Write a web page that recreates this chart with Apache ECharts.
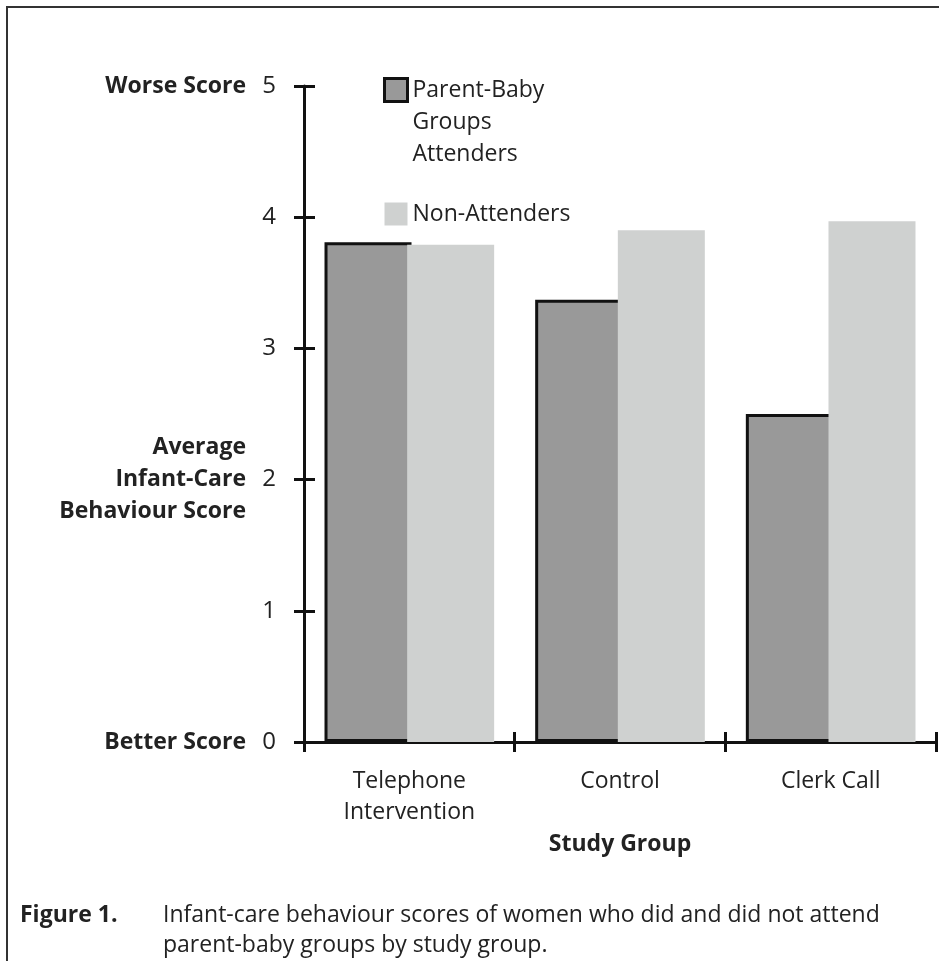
<!DOCTYPE html>
<html>
<head>
<meta charset="utf-8">
<script src="https://cdn.jsdelivr.net/npm/echarts@6/dist/echarts.min.js"></script>
<style>
html,body{margin:0;padding:0;background:#fff;}
#chart{position:absolute;left:0;top:0;width:939px;height:961px;}
#frame{position:absolute;left:6px;top:6px;width:940px;height:960px;border-left:2px solid #333;border-top:2px solid #333;pointer-events:none;}
</style>
</head>
<body>
<div id="chart"></div>
<div id="frame"></div>
<script>
const categories = ['Telephone\nIntervention', 'Control', 'Clerk Call'];
const attenders = [3.81, 3.37, 2.50];
const nonAttenders = [3.79, 3.90, 3.97];
const seriesNames = ['Parent-Baby\nGroups\nAttenders', 'Non-Attenders'];
const yTickValues = [0, 1, 2, 3, 4, 5];
const yDescriptors = ['Better Score', '', 'Average\nInfant-Care\nBehaviour Score', '', '', 'Worse Score'];
const captionLabel = 'Figure 1.';
const captionText = 'Infant-care behaviour scores of women who did and did not attend\nparent-baby groups by study group.';

const FONT = 'Open Sans';
const INK = '#111';

const chart = echarts.init(document.getElementById('chart'), null, {renderer: 'canvas'});

const baseY = {
  type: 'value', min: yTickValues[0], max: yTickValues[yTickValues.length - 1], interval: 1,
  position: 'left', offset: 0, splitLine: {show: false}
};
const baseX = {
  type: 'category', data: categories, position: 'bottom', offset: 0, boundaryGap: true,
  splitLine: {show: false}
};

chart.setOption({
  animation: false,
  backgroundColor: '#fff',
  textStyle: {fontFamily: FONT},
  title: [
    {text: captionLabel, left: 15, top: 895, textStyle: {fontFamily: FONT, fontSize: 23, fontWeight: 'bold', color: '#222', lineHeight: 30}},
    {text: captionText, left: 158, top: 895, textStyle: {fontFamily: FONT, fontSize: 23, fontWeight: 'normal', color: '#222', lineHeight: 30}}
  ],
  legend: {
    orient: 'vertical', left: 383, top: 10, padding: 0, itemWidth: 23, itemHeight: 23, itemGap: 28,
    selectedMode: false, icon: 'rect',
    textStyle: {fontFamily: FONT, fontSize: 23, color: '#222', lineHeight: 32},
    formatter: function (name) { return name === seriesNames[0] ? '\n\n' + name : name; },
    data: [
      {name: seriesNames[0], itemStyle: {borderColor: INK, borderWidth: 3}},
      {name: seriesNames[1]}
    ]
  },
  grid: {left: 304, right: 3, top: 86, bottom: 219, containLabel: false},
  xAxis: [
    Object.assign({}, baseX, {
      axisLine: {show: true, lineStyle: {color: INK, width: 3}},
      axisTick: {show: true, inside: false, length: 10, lineStyle: {color: INK, width: 3}},
      axisLabel: {show: true, margin: 24, fontFamily: FONT, fontSize: 23, lineHeight: 31, color: '#222'},
      name: 'Study Group', nameLocation: 'middle', nameGap: 87,
      nameTextStyle: {fontFamily: FONT, fontSize: 23, fontWeight: 'bold', color: '#222'}
    }),
    Object.assign({}, baseX, {
      axisLine: {show: false},
      axisTick: {show: true, inside: true, length: 10, lineStyle: {color: INK, width: 3}},
      axisLabel: {show: false}
    })
  ],
  yAxis: [
    Object.assign({}, baseY, {
      axisLine: {show: true, lineStyle: {color: INK, width: 3}},
      axisTick: {show: true, inside: false, length: 10, lineStyle: {color: INK, width: 3}},
      axisLabel: {show: true, margin: 28, fontFamily: FONT, fontSize: 24, color: '#222'}
    }),
    Object.assign({}, baseY, {
      axisLine: {show: false},
      axisTick: {show: true, inside: true, length: 11, lineStyle: {color: INK, width: 3}},
      axisLabel: {show: false}
    }),
    Object.assign({}, baseY, {
      axisLine: {show: false},
      axisTick: {show: false},
      axisLabel: {
        show: true, margin: 58, fontFamily: FONT, fontSize: 23, fontWeight: 'bold', color: '#222', lineHeight: 32,
        formatter: function (v) { return yDescriptors[Math.round(v)] || ''; }
      }
    })
  ],
  series: [
    {
      name: seriesNames[0], type: 'bar', data: attenders, xAxisIndex: 0, yAxisIndex: 0,
      barWidth: 87, barGap: '-5%',
      itemStyle: {color: '#999999', borderColor: INK, borderWidth: 3}
    },
    {
      name: seriesNames[1], type: 'bar', data: nonAttenders, xAxisIndex: 0, yAxisIndex: 0,
      barWidth: 87,
      itemStyle: {color: '#cfd1d0', borderWidth: 0}
    }
  ]
});
</script>
</body>
</html>
